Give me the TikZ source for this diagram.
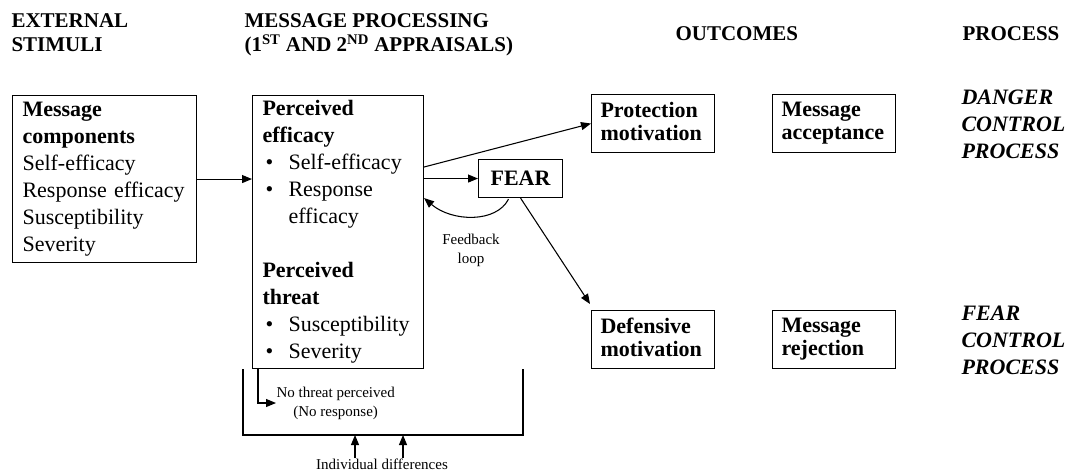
\documentclass[tikz,border=0pt]{standalone}
\usepackage{fontspec}
\setmainfont{Liberation Serif}
\usetikzlibrary{arrows.meta}

\newcommand{\hdfont}{\fontsize{15.75}{18}\selectfont\bfseries}
\newcommand{\bxfont}{\fontsize{16.5}{20.25}\selectfont}
\newcommand{\smfont}{\fontsize{11.25}{14.25}\selectfont}
\newcommand{\bitem}[1]{\makebox[19.5pt][l]{\hspace{2.25pt}\textbullet}#1}

\begin{document}
\begin{tikzpicture}[x=0.75pt, y=-0.75pt, >={Triangle[length=7.5pt,width=6pt]},
  line width=0.8pt,
  head/.style={anchor=north west, inner sep=0pt, align=left, font=\hdfont},
  box/.style={draw, anchor=north west, inner xsep=7.5pt, inner ysep=0pt,
    align=left, font=\bxfont},
  outbox/.style={box, inner xsep=6.75pt, text width=78.75pt,
    minimum height=43.5pt, font=\bxfont\fontsize{16.5}{17.25}\selectfont\bfseries},
  proc/.style={anchor=north west, inner sep=0pt, align=left,
    font=\fontsize{16.5}{20.25}\selectfont\bfseries\itshape},
  small/.style={inner sep=0pt, align=center, font=\smfont}]
  \useasboundingbox (0,0) rectangle (1075,472);

  % Column headings
  \node[head] (hExt) at (11,13) {EXTERNAL\\STIMULI};
  \node[head] (hMsg) at (244,13)
    {MESSAGE PROCESSING\\(1\textsuperscript{ST} AND 2\textsuperscript{ND} APPRAISALS)};
  \node[head] (hOut) at (675,26) {OUTCOMES};
  \node[head] (hProc) at (962,26) {PROCESS};

  % Boxes
  \node[box, text width=123pt, minimum height=125.25pt] (stim) at (12,95)
    {\textbf{Message}\\\textbf{components}\\Self-efficacy\\Response efficacy\\Susceptibility\\Severity};
  \node[box, text width=113.25pt, minimum height=204.75pt] (appr) at (252,95)
    {\textbf{Perceived}\\\textbf{efficacy}\\\bitem{Self-efficacy}\\\bitem{Response}\\\hspace*{19.5pt}efficacy\\[20.25pt]
     \textbf{Perceived}\\\textbf{threat}\\\bitem{Susceptibility}\\\bitem{Severity}};
  \node[draw, anchor=north west, minimum width=63pt, minimum height=28.5pt,
    inner sep=0pt, font=\bxfont\bfseries] (fear) at (478,159) {FEAR};
  \node[outbox] (prot) at (591,94) {Protection\\motivation\vphantom{p}};
  \node[outbox] (acc) at (772,94) {Message\\acceptance};
  \node[outbox] (defm) at (591,310) {Defensive\\motivation\vphantom{p}};
  \node[outbox] (rej) at (772,310) {Message\\rejection};

  % Process labels
  \node[proc] (dcp) at (961,89) {DANGER\\CONTROL\\PROCESS};
  \node[proc] (fcp) at (961,305) {FEAR\\CONTROL\\PROCESS};

  % Small labels
  \node[small] (fb) at (471,250) {Feedback\\loop};
  \node[small, anchor=west] (nothr) at (276,403) {No threat perceived\\(No response)};
  \node[small] (indiv) at (382,464) {Individual differences};

  % Connectors
  \draw[->] (stim.east) -- (stim.east -| appr.west);
  \draw[->] (fear.west -| appr.east) -- (fear.west);
  \draw[->] (appr.north east) ++(0,72) -- (prot.west);
  \draw[->] (fear.south) -- ([shift={(-1,-6)}]defm.north west);
  \draw[->] (fear.south) ++(-12,1) .. controls +(-12,24) and +(28,24) .. (appr.east |- fear.south);
  \draw[->] (appr.south west) ++(6,0) |- (nothr.west);

  % Bracket for individual differences
  \coordinate (brL) at (243,435);
  \coordinate (brR) at (523,435);
  \coordinate (ia) at (355,435);
  \coordinate (ib) at (403,435);
  \draw (brL |- appr.south) -- (brL) -- (brR) -- (brR |- appr.south);
  \draw[->] (indiv.north -| ia) -- (ia);
  \draw[->] (indiv.north -| ib) -- (ib);
\end{tikzpicture}
\end{document}
